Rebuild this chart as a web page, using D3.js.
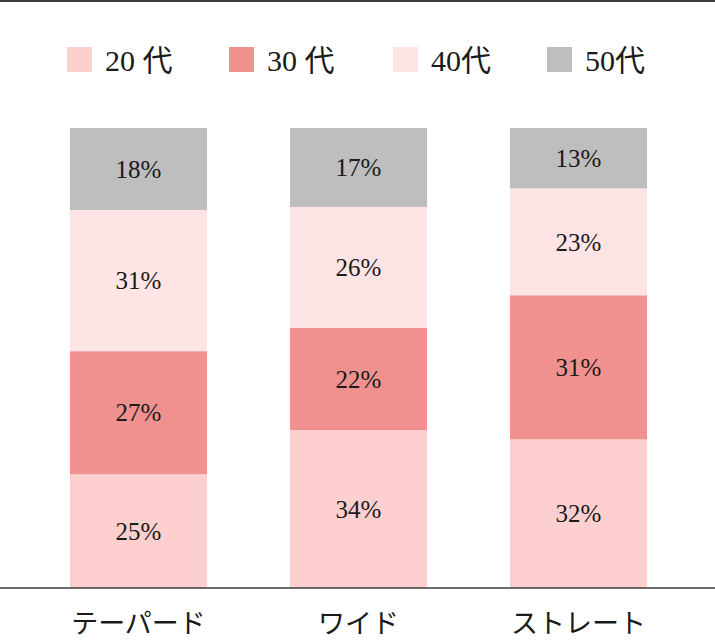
<!DOCTYPE html>
<html>
<head>
<meta charset="utf-8">
<title>年代別 シルエット</title>
<script src="https://cdn.jsdelivr.net/npm/d3@7"></script>
<style>
  body { margin: 0; background: #fff; }
  text { font-family: "Liberation Serif", "DejaVu Serif", "Noto Sans CJK JP", serif; fill: #1a1a1a; }
</style>
</head>
<body>
<script>
// data
var categories = ["テーパード", "ワイド", "ストレート"];
var ages = ["20代", "30代", "40代", "50代"];
var legendLabels = ["20 代", "30 代", "40代", "50代"];
var age20 = [25, 34, 32];
var age30 = [27, 22, 31];
var age40 = [31, 26, 23];
var age50 = [18, 17, 13];
var colors = ["#fdcfcf", "#f09190", "#fee4e4", "#bebebe"];

var W = 715, H = 641;
var base = d3.select("body").append("svg")
  .attr("width", W).attr("height", H);

var rows = categories.map(function(c, i) {
  return {cat: c, "20代": age20[i], "30代": age30[i], "40代": age40[i], "50代": age50[i]};
});

// each bar fills the full height (shares of its own total)
var stack = d3.stack().keys(ages).offset(d3.stackOffsetExpand);
var series = stack(rows);

var x = d3.scaleBand().domain(categories).range([28.5, 688.5])
  .paddingInner(0.377).paddingOuter(0.1885);
var y = d3.scaleLinear().domain([0, 1]).range([588, 128]);
var color = d3.scaleOrdinal().domain(ages).range(colors);

// top frame line
base.append("line")
  .attr("x1", 0).attr("x2", W).attr("y1", 1).attr("y2", 1)
  .attr("stroke", "#3c3c3c").attr("stroke-width", 2);

var groups = base.selectAll("g.layer").data(series).enter()
  .append("g").attr("class", "layer")
  .attr("fill", function(d) { return color(d.key); });

groups.selectAll("rect").data(function(d) { return d; }).enter()
  .append("rect")
  .attr("x", function(d) { return x(d.data.cat); })
  .attr("width", x.bandwidth())
  .attr("y", function(d) { return y(d[1]); })
  .attr("height", function(d) { return y(d[0]) - y(d[1]); });

groups.selectAll("text").data(function(d) { return d.map(function(v) { v.key = d.key; return v; }); }).enter()
  .append("text")
  .attr("x", function(d) { return x(d.data.cat) + x.bandwidth() / 2; })
  .attr("y", function(d) { return (y(d[0]) + y(d[1])) / 2; })
  .attr("dy", "0.35em")
  .attr("text-anchor", "middle")
  .attr("font-size", "25px")
  .text(function(d) { return d.data[d.key] + "%"; });

// x axis
var xAxis = base.append("g")
  .attr("transform", "translate(0,588)")
  .call(d3.axisBottom(x).tickSize(0).tickPadding(0));
xAxis.select(".domain").remove();
xAxis.append("line")
  .attr("x1", 0).attr("x2", W).attr("y1", 0).attr("y2", 0)
  .attr("stroke", "#3c3c3c").attr("stroke-width", 1.5);
xAxis.selectAll(".tick text")
  .attr("y", 36)
  .attr("dy", "0.35em")
  .attr("font-size", "27px")
  .attr("font-family", "'Noto Sans CJK JP', sans-serif")
  .attr("fill", "#1a1a1a");

// legend
var legendX = [67, 229, 393, 547];
var legend = base.append("g").selectAll("g").data(ages).enter()
  .append("g")
  .attr("transform", function(d, i) { return "translate(" + legendX[i] + ",47)"; });
legend.append("rect")
  .attr("width", 25).attr("height", 25)
  .attr("fill", function(d) { return color(d); });
legend.append("text")
  .attr("x", 38).attr("y", 13).attr("dy", "0.35em")
  .attr("font-size", "30px")
  .text(function(d, i) { return legendLabels[i]; });
</script>
</body>
</html>
